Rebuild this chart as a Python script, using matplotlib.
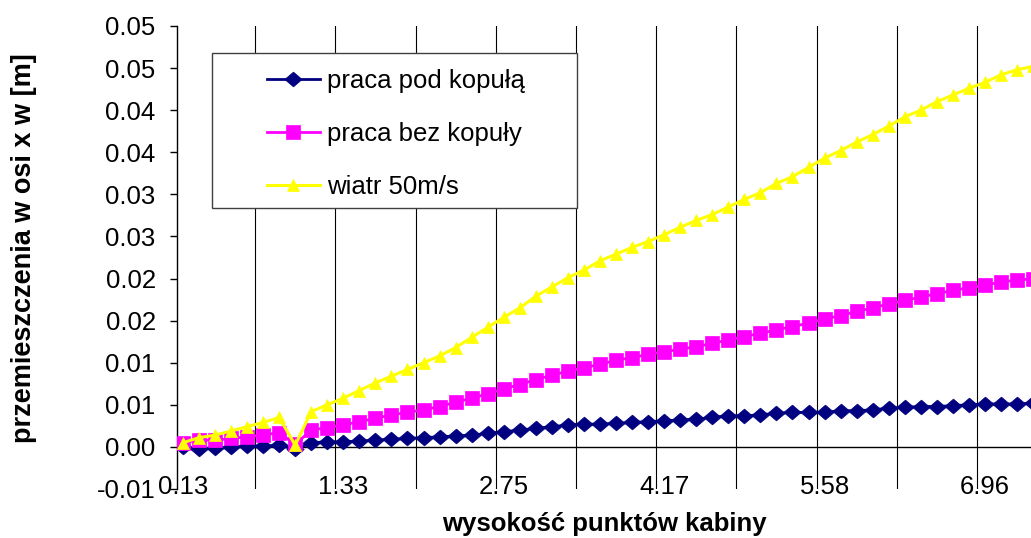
import matplotlib
matplotlib.use('Agg')
import matplotlib.pyplot as plt
from matplotlib.patches import Rectangle

plt.rcParams['font.family'] = ['Liberation Sans', 'DejaVu Sans']

# ---- data ----
x_tick_positions = [0, 10, 20, 30, 40, 50]
x_tick_labels = ['0.13', '1.33', '2.75', '4.17', '5.58', '6.96']

praca_pod_kopula = [
    0.0000, -0.0002, -0.0001, 0.0000, 0.0001, 0.0001, 0.0002, -0.0003,
    0.0005, 0.0006, 0.0006, 0.0007, 0.0008, 0.0009, 0.0010, 0.0011, 0.0012, 0.0013, 0.0014,
    0.0016, 0.0018, 0.0020, 0.0022, 0.0024,
    0.0026, 0.0027, 0.0027, 0.0028, 0.0029, 0.0030, 0.0031, 0.0032, 0.0033,
    0.0035, 0.0037, 0.0037, 0.0038, 0.0040, 0.0041, 0.0041, 0.0041, 0.0043, 0.0043,
    0.0044, 0.0046, 0.0047, 0.0048, 0.0048, 0.0049, 0.0050, 0.0051, 0.0051, 0.0051, 0.0052,
]
praca_bez_kopuly = [
    0.0005, 0.0008, 0.0008, 0.0010, 0.0012, 0.0014, 0.0017, 0.0003, 0.0020, 0.0023,
    0.0026, 0.0030, 0.0034, 0.0038,
    0.0041, 0.0044, 0.0048, 0.0053, 0.0058, 0.0063, 0.0069, 0.0074, 0.0080, 0.0085,
    0.0090, 0.0094, 0.0098, 0.0103, 0.0106, 0.0110, 0.0113, 0.0116, 0.0119, 0.0123,
    0.0127, 0.0131, 0.0135, 0.0139, 0.0143, 0.0147, 0.0152, 0.0156, 0.0161, 0.0165,
    0.0170, 0.0174, 0.0178, 0.0182, 0.0186, 0.0189, 0.0192, 0.0196, 0.0198, 0.0200,
]
wiatr_50 = [
    0.0005, 0.0011, 0.0014, 0.0019, 0.0024, 0.0029, 0.0035, 0.0002, 0.0042, 0.0050,
    0.0058, 0.0067, 0.0076, 0.0084,
    0.0092, 0.0100, 0.0108, 0.0118, 0.0130, 0.0142, 0.0154, 0.0165, 0.0179, 0.0190,
    0.0201, 0.0210, 0.0221, 0.0229,
    0.0237, 0.0244, 0.0252, 0.0261, 0.0269, 0.0276, 0.0285, 0.0294, 0.0302, 0.0313,
    0.0321, 0.0332, 0.0343,
    0.0352, 0.0362, 0.0371, 0.0381, 0.0392, 0.0400, 0.0410, 0.0418, 0.0426, 0.0433,
    0.0442, 0.0448, 0.0452,
]
series_names = ['praca pod kopułą', 'praca bez kopuły', 'wiatr 50m/s']

y_ticks = [-0.005, 0.0, 0.005, 0.01, 0.015, 0.02, 0.025, 0.03, 0.035, 0.04, 0.045, 0.05]
y_tick_labels = ['-0.01', '0.00', '0.01', '0.01', '0.02', '0.02', '0.03', '0.03',
                 '0.04', '0.04', '0.05', '0.05']

# ---- figure ----
W, H = 1031, 538
fig = plt.figure(figsize=(W / 100, H / 100), dpi=100)
fig.patch.set_facecolor('white')

def fx(px):
    return px / W

def fy(py):
    return (H - py) / H

ax_left, ax_right, ax_top, ax_bottom = 176.5, 1031, 26, 489
ax = fig.add_axes([fx(ax_left), fy(ax_bottom), fx(ax_right - ax_left), (ax_bottom - ax_top) / H])
ax.set_facecolor('white')

x = list(range(len(wiatr_50)))
diamond = [(-1, 0), (0, 0.85), (1, 0), (0, -0.85), (-1, 0)]

ax.plot(x, praca_pod_kopula, color='#000080', lw=2.0, marker=diamond, markersize=12.5,
        markeredgewidth=0.5, label=series_names[0], zorder=3)
ax.plot(x, praca_bez_kopuly, color='#FF00FF', lw=2.0, marker='s', markersize=9.5,
        markeredgewidth=0.5, label=series_names[1], zorder=3)
ax.plot(x, wiatr_50, color='#FFFF00', lw=2.2, marker='^', markersize=9,
        markeredgewidth=0.5, label=series_names[2], zorder=3)

ax.set_xlim(-0.4, 52.87)
ax.set_ylim(-0.005, 0.05)

ax.axhline(0, color='black', lw=1.0, zorder=2)

for s in ['top', 'right', 'bottom']:
    ax.spines[s].set_visible(False)
ax.spines['left'].set_color('black')
ax.spines['left'].set_linewidth(1.0)

ax.set_yticks(y_ticks)
ax.set_yticklabels(y_tick_labels, fontsize=18.5)
ax.tick_params(axis='y', direction='out', length=5, width=1, pad=10, colors='black')

ax.set_xticks(x_tick_positions)
ax.set_xticklabels(x_tick_labels, fontsize=18.5)
ax.set_xticks([i + 4.5 for i in range(0, 50, 5)], minor=True)
ax.tick_params(axis='x', which='both', length=0, pad=-10)
ax.grid(which='minor', axis='x', color='black', lw=0.8, zorder=1)
ax.grid(which='major', axis='x', visible=False)
ax.grid(axis='y', visible=False)

# legend frame (white, opaque)
rect = Rectangle((fx(212), fy(208)), fx(577 - 212), (208 - 53) / H, transform=fig.transFigure,
                 facecolor='white', edgecolor='#404040', lw=1.0, zorder=5)
fig.add_artist(rect)
leg = ax.legend(loc='upper left', bbox_to_anchor=(fx(267), fy(69)), bbox_transform=fig.transFigure,
                frameon=False, fontsize=18.5, borderpad=0, borderaxespad=0,
                handlelength=2.06, handletextpad=0.27, labelspacing=1.13, numpoints=1)
leg.set_zorder(6)
fig.add_artist(leg)

fig.text(fx(604), fy(524), 'wysokość punktów kabiny', ha='center', va='center',
         fontsize=18.5, fontweight='bold')
fig.text(fx(24), fy(443), 'przemieszczenia w osi x w [m]', ha='center', va='bottom',
         rotation=90, fontsize=19.5, fontweight='bold')

fig.savefig('out.png', dpi=100)
